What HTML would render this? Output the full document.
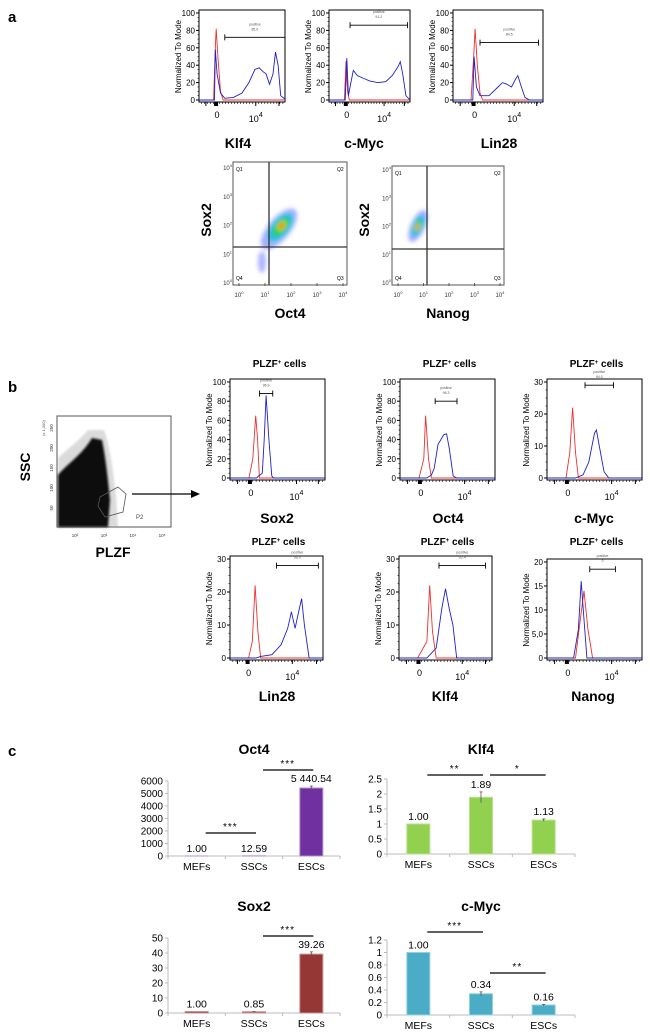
<!DOCTYPE html>
<html><head><meta charset="utf-8">
<style>
html,body{margin:0;padding:0;background:#fff;}
svg{display:block;font-family:"Liberation Sans",sans-serif;}
</style></head>
<body>
<svg id="fig" width="650" height="1036" viewBox="0 0 650 1036" xmlns="http://www.w3.org/2000/svg">
<defs>
<filter id="blur2" x="-50%" y="-50%" width="200%" height="200%"><feGaussianBlur stdDeviation="2"/></filter>
<filter id="blur1" x="-50%" y="-50%" width="200%" height="200%"><feGaussianBlur stdDeviation="1"/></filter>
</defs>
<text x="8" y="22" font-size="15" font-weight="bold">a</text>
<text x="8" y="392" font-size="15" font-weight="bold">b</text>
<text x="8" y="756" font-size="15" font-weight="bold">c</text>

<g>
  <rect x="233" y="162" width="114" height="123" fill="none" stroke="#555" stroke-width="1"/>
  <g filter="url(#blur2)" transform="rotate(-50 279 229)">
    <ellipse cx="279" cy="229" rx="25" ry="11" fill="#4a5cff" opacity="0.5"/>
    <ellipse cx="281" cy="229" rx="17" ry="8" fill="#22c0e0"/>
    <ellipse cx="282" cy="229" rx="11" ry="5.5" fill="#33d040"/>
    <ellipse cx="283" cy="229" rx="5" ry="3" fill="#ffd000"/>
    <ellipse cx="283" cy="229" rx="2.5" ry="1.8" fill="#e03000"/>
  </g>
  <ellipse cx="262" cy="262" rx="4" ry="11" fill="#4a5cff" opacity="0.45" filter="url(#blur2)"/>
  <line x1="269" y1="162" x2="269" y2="285" stroke="#333" stroke-width="1.3"/>
  <line x1="233" y1="247" x2="347" y2="247" stroke="#333" stroke-width="1.3"/>
  <text x="236" y="171" font-size="5">Q1</text><text x="337" y="171" font-size="5">Q2</text>
  <text x="236" y="280" font-size="5">Q4</text><text x="337" y="280" font-size="5">Q3</text>
</g>
<g>
  <rect x="392" y="166" width="112" height="119" fill="none" stroke="#555" stroke-width="1"/>
  <g filter="url(#blur2)" transform="rotate(25 418 226)">
    <ellipse cx="418" cy="226" rx="7" ry="17" fill="#4a5cff" opacity="0.55"/>
    <ellipse cx="418" cy="226" rx="5" ry="11" fill="#22c0e0"/>
    <ellipse cx="418" cy="226" rx="3" ry="7" fill="#33d040"/>
    <ellipse cx="418" cy="227" rx="2" ry="3.5" fill="#ffa000"/>
  </g>
  <line x1="427" y1="166" x2="427" y2="285" stroke="#333" stroke-width="1.3"/>
  <line x1="392" y1="249" x2="504" y2="249" stroke="#333" stroke-width="1.3"/>
  <text x="395" y="175" font-size="5">Q1</text><text x="494" y="175" font-size="5">Q2</text>
  <text x="395" y="280" font-size="5">Q4</text><text x="494" y="280" font-size="5">Q3</text>
</g>
<text transform="translate(211 220) rotate(-90)" text-anchor="middle" font-size="14" font-weight="bold">Sox2</text>
<text transform="translate(369 220) rotate(-90)" text-anchor="middle" font-size="14" font-weight="bold">Sox2</text>
<text x="290" y="318" text-anchor="middle" font-size="14" font-weight="bold">Oct4</text>
<text x="448" y="318" text-anchor="middle" font-size="14" font-weight="bold">Nanog</text>

<g>
  <rect x="57" y="416" width="114" height="111" fill="none" stroke="#555" stroke-width="1"/>
  <path d="M58,527 L58,458 C66,450 78,442 88,430 L104,430 C110,447 113,470 116,495 L118,527 Z" fill="#999" opacity="0.35" filter="url(#blur1)"/>
  <path d="M58,527 L58,475 C66,465 82,455 92,438 L102,440 C106,460 108,480 110,500 L108,527 Z" fill="#111" filter="url(#blur1)"/>
  <path d="M100,497 L118,487 L126,494 L123,512 L105,517 L98,506 Z" fill="none" stroke="#555" stroke-width="0.8"/>
  <text x="136" y="519" font-size="6" fill="#444">P2</text>
  <text transform="translate(45 436) rotate(-90)" font-size="4" fill="#555">(x 1,000)</text>
</g>
<text transform="translate(30 467) rotate(-90)" text-anchor="middle" font-size="14" font-weight="bold">SSC</text>
<text x="113" y="557" text-anchor="middle" font-size="14" font-weight="bold">PLZF</text>
<g>
  <line x1="132" y1="494" x2="193" y2="494" stroke="#000" stroke-width="1.2"/>
  <polygon points="200,494 191,490 191,498" fill="#000"/>
</g>
<g id="dyn"></g>
</svg>
<script>
const klf4aRed=[[0.17,0],[0.19,60],[0.2,82],[0.22,50],[0.25,10],[0.28,0],[1,0]];
const klf4aBlue=[[0,0],[0.18,0],[0.19,58],[0.21,30],[0.25,8],[0.3,2],[0.4,3],[0.5,8],[0.58,20],[0.65,35],[0.7,37],[0.74,33],[0.78,30],[0.82,18],[0.86,30],[0.89,55],[0.92,40],[0.95,5],[1,1]];
const cmycaRed=[[0,0],[0.19,0],[0.21,45],[0.23,10],[0.25,0],[1,0]];
const cmycaBlue=[[0,0],[0.2,0],[0.22,48],[0.24,5],[0.27,20],[0.3,34],[0.35,28],[0.45,24],[0.5,22],[0.6,20],[0.7,21],[0.78,28],[0.85,38],[0.88,44],[0.91,30],[0.95,5],[1,0]];
const lin28aRed=[[0,0],[0.2,0],[0.23,50],[0.245,82],[0.27,40],[0.3,8],[0.33,0],[1,0]];
const lin28aBlue=[[0,0],[0.22,0],[0.235,50],[0.26,15],[0.3,5],[0.4,5],[0.5,15],[0.55,20],[0.6,18],[0.65,15],[0.7,25],[0.72,28],[0.76,15],[0.8,3],[0.85,0],[1,0]];
const sox2bRed=[[0,0],[0.2,0],[0.24,20],[0.27,65],[0.29,40],[0.31,0],[1,0]];
const sox2bBlue=[[0,0],[0.28,0],[0.3,2],[0.34,5],[0.36,40],[0.38,86],[0.41,40],[0.44,2],[0.46,0],[1,0]];
const oct4bRed=[[0,0],[0.2,0],[0.25,20],[0.27,65],[0.3,20],[0.33,0],[1,0]];
const oct4bBlue=[[0,0],[0.28,0],[0.33,3],[0.36,10],[0.4,35],[0.43,40],[0.46,45],[0.49,46],[0.52,30],[0.56,2],[0.6,0],[1,0]];
const cmycbRed=[[0,0],[0.2,0],[0.24,8],[0.27,22],[0.3,8],[0.33,0],[1,0]];
const cmycbBlue=[[0,0],[0.3,0],[0.38,1],[0.44,5],[0.5,14],[0.52,15],[0.55,10],[0.6,2],[0.65,0],[1,0]];
const lin28bRed=[[0,0],[0.2,0],[0.24,5],[0.27,22],[0.3,8],[0.33,0],[1,0]];
const lin28bBlue=[[0,0],[0.28,0],[0.33,0.5],[0.45,1],[0.55,4],[0.62,9],[0.66,14],[0.7,9],[0.73,13],[0.77,18],[0.8,10],[0.85,0],[1,0]];
const klf4bRed=[[0,0],[0.2,0],[0.3,5],[0.33,22],[0.36,8],[0.4,0],[1,0]];
const klf4bBlue=[[0,0],[0.3,0],[0.4,3],[0.46,15],[0.5,21],[0.54,15],[0.58,10],[0.62,0],[1,0]];
const nanogbRed=[[0,0],[0.3,0],[0.35,8],[0.39,14],[0.43,6],[0.48,0],[1,0]];
const nanogbBlue=[[0,0],[0.28,0],[0.33,6],[0.36,16],[0.39,8],[0.42,0],[1,0]];
const ticks100=[0,20,40,60,80,100];
const ticks30=[0,10,20,30];
const ticks20=[0,5,10,15,20];
const ticks20Labels=["0","5,0","10","15","20"];

const categories=["MEFs","SSCs","ESCs"];
const oct4Vals=[1.00,12.59,5440.54];
const oct4Err=[0,0,150];
const oct4Labels=["1.00","12.59","5 440.54"];
const oct4Ticks=[0,1000,2000,3000,4000,5000,6000];
const klf4Vals=[1.00,1.89,1.13];
const klf4Err=[0,0.18,0.04];
const klf4Labels=["1.00","1.89","1.13"];
const klf4Ticks=[0,0.5,1,1.5,2,2.5];
const sox2Vals=[1.00,0.85,39.26];
const sox2Err=[0,0.1,1.5];
const sox2Labels=["1.00","0.85","39.26"];
const sox2Ticks=[0,10,20,30,40,50];
const cmycVals=[1.00,0.34,0.16];
const cmycErr=[0,0.03,0.01];
const cmycLabels=["1.00","0.34","0.16"];
const cmycTicks=[0,0.2,0.4,0.6,0.8,1,1.2];

const NS="http://www.w3.org/2000/svg";
const root=document.getElementById('dyn');
function mk(tag,attrs,parent,txt){const e=document.createElementNS(NS,tag);for(const k in attrs)e.setAttribute(k,attrs[k]);if(txt!==undefined)e.textContent=txt;(parent||root).appendChild(e);return e;}

function hist(c){
  const g=mk('g',{});
  
  
  const sx=f=>c.l+f*(c.r-c.l);
  const sy=v=>c.y0-(v/c.ymax)*(c.y0-c.yt);
  mk('rect',{x:c.l,y:c.yt-3,width:c.r-c.l,height:c.y0-c.yt+5,fill:'none',stroke:'#000','stroke-width':1},g);
  c.ticks.forEach((t,i)=>{
    mk('line',{x1:c.l-3,y1:sy(t),x2:c.l,y2:sy(t),stroke:'#000','stroke-width':1},g);
    const lb=mk('text',{x:c.l-4,y:sy(t)+3,'text-anchor':'end','font-size':8},g,c.tlabels?c.tlabels[i]:String(t));
    
    
  });
  for(let i=0;i<c.ticks.length-1;i++){for(let k=1;k<4;k++){const v=c.ticks[i]+(c.ticks[i+1]-c.ticks[i])*k/4;mk('line',{x1:c.l-1.5,y1:sy(v),x2:c.l,y2:sy(v),stroke:'#000','stroke-width':0.6},g);}}
  const yb=c.y0+2;
  for(let f=0.03;f<1;f+=0.035){mk('line',{x1:sx(f),y1:yb,x2:sx(f),y2:yb+2,stroke:'#000','stroke-width':0.6},g);}
  [0.08,c.z,c.t,0.93].forEach(f=>mk('line',{x1:sx(f),y1:yb,x2:sx(f),y2:yb+4,stroke:'#000','stroke-width':1},g));
  mk('rect',{x:sx(c.z)-3,y:yb,width:4,height:4,fill:'#000'},g);
  mk('text',{x:sx(c.z),y:yb+16,'text-anchor':'middle','font-size':9},g,'0');
  const tt=mk('text',{x:sx(c.t),y:yb+20,'text-anchor':'middle','font-size':9},g,'10');
  mk('tspan',{dy:-5,'font-size':7},tt,'4');
  const lineOf=arr=>arr.map((p,i)=>(i?'L':'M')+sx(p[0]).toFixed(1)+','+sy(p[1]).toFixed(1)).join(' ');
  const rp=mk('path',{d:lineOf(c.red),fill:'none',stroke:'#f03030','stroke-width':0.9},g);
  
  
  const bp=mk('path',{d:lineOf(c.blue),fill:'none',stroke:'#2020c8','stroke-width':0.9},g);
  
  
  const gy=sy(c.gate[2]);
  mk('line',{x1:sx(c.gate[0]),y1:gy,x2:sx(c.gate[1]),y2:gy,stroke:'#000','stroke-width':0.9},g);
  mk('line',{x1:sx(c.gate[0]),y1:gy-3,x2:sx(c.gate[0]),y2:gy+3,stroke:'#000','stroke-width':0.9},g);
  mk('line',{x1:sx(c.gate[1]),y1:gy-3,x2:sx(c.gate[1]),y2:gy+3,stroke:'#000','stroke-width':0.9},g);
  const gm=(sx(c.gate[0])+sx(c.gate[1]))/2;
  mk('text',{x:gm,y:gy-12,'text-anchor':'middle','font-size':3.5,fill:'#555'},g,'positive');
  mk('text',{x:gm,y:gy-7,'text-anchor':'middle','font-size':3.5,fill:'#555'},g,c.gate[3]);
  const yl=mk('text',{transform:`translate(${c.l-18} ${(c.yt+c.y0)/2}) rotate(-90)`,'text-anchor':'middle','font-size':8},g,'Normalized To Mode');
  
  
  const xl=mk('text',{x:c.lx,y:c.ly,'text-anchor':'middle','font-size':14,'font-weight':'bold'},g,c.label);
  
  
  if(c.title){const ti=mk('text',{x:(c.l+c.r)/2+2,y:c.ty,'text-anchor':'middle','font-size':10,'font-weight':'bold'},g,'PLZF');mk('tspan',{dy:-3,'font-size':6},ti,'+');mk('tspan',{dy:3},ti,' cells');}
}
hist({name:'hist-klf4-a',l:199,r:285,yt:13,y0:100,ymax:100,ticks:ticks100,red:klf4aRed,blue:klf4aBlue,z:0.21,t:0.66,gate:[0.3,1.0,72,'85.6'],label:'Klf4',lx:238,ly:148});
hist({name:'hist-cmyc-a',l:329,r:410,yt:13,y0:100,ymax:100,ticks:ticks100,red:cmycaRed,blue:cmycaBlue,z:0.22,t:0.68,gate:[0.26,0.97,86,'91.2'],label:'c-Myc',lx:364,ly:148});
hist({name:'hist-lin28-a',l:453,r:543,yt:13,y0:100,ymax:100,ticks:ticks100,red:lin28aRed,blue:lin28aBlue,z:0.24,t:0.68,gate:[0.3,0.95,66,'84.5'],label:'Lin28',lx:499,ly:148});
hist({name:'hist-sox2-b',l:230,r:325,yt:382,y0:478,ymax:100,ticks:ticks100,red:sox2bRed,blue:sox2bBlue,z:0.22,t:0.7,gate:[0.31,0.45,88,'96.9'],label:'Sox2',lx:277,ly:523,title:1,ty:367});
hist({name:'hist-oct4-b',l:400,r:495,yt:382,y0:478,ymax:100,ticks:ticks100,red:oct4bRed,blue:oct4bBlue,z:0.22,t:0.68,gate:[0.37,0.6,80,'96.3'],label:'Oct4',lx:448,ly:523,title:1,ty:367});
hist({name:'hist-cmyc-b',l:547,r:642,yt:382,y0:478,ymax:30,ticks:ticks30,red:cmycbRed,blue:cmycbBlue,z:0.22,t:0.68,gate:[0.4,0.7,29,'94.0'],label:'c-Myc',lx:594,ly:523,title:1,ty:367});
hist({name:'hist-lin28-b',l:230,r:323,yt:559,y0:658,ymax:30,ticks:ticks30,red:lin28bRed,blue:lin28bBlue,z:0.2,t:0.67,gate:[0.5,0.95,28,'98.0'],label:'Lin28',lx:277,ly:701,title:1,ty:545});
hist({name:'hist-klf4-b',l:399,r:492,yt:559,y0:658,ymax:30,ticks:ticks30,red:klf4bRed,blue:klf4bBlue,z:0.22,t:0.68,gate:[0.43,0.93,28,'92.4'],label:'Klf4',lx:445,ly:701,title:1,ty:545});
hist({name:'hist-nanog-b',l:547,r:642,yt:562,y0:658,ymax:20,ticks:ticks20,tlabels:ticks20Labels,red:nanogbRed,blue:nanogbBlue,z:0.22,t:0.68,gate:[0.45,0.72,18.5,'0'],label:'Nanog',lx:593,ly:701,title:1,ty:545});

function decades(x0,x1,yBase,yx,y0,y1){
  for(let i=0;i<=4;i++){
    const x=x0+(x1-x0)*i/4;
    const t=mk('text',{x:x,y:yBase,'text-anchor':'middle','font-size':6,fill:'#333'},root,'10');mk('tspan',{dy:-3,'font-size':4},t,String(i));
    mk('line',{x1:x,y1:y1,x2:x,y2:y1+3,stroke:'#333','stroke-width':0.7});
    const y=y1-(y1-y0)*i/4;
    const t2=mk('text',{x:yx,y:y+2,'text-anchor':'end','font-size':6,fill:'#333'},root,'10');mk('tspan',{dy:-3,'font-size':4},t2,String(i));
  }
}
decades(239,343,297,232,168,283);
decades(398,500,297,391,170,283);
['10²','10³','10⁴','10⁵'].forEach((s,i)=>{mk('text',{x:75+i*29,y:537,'text-anchor':'middle','font-size':4.5,fill:'#333'},root,s);});
['50','100','150','200','250'].forEach((s,i)=>{mk('text',{transform:`translate(${53} ${508-i*20}) rotate(-90)`,'text-anchor':'middle','font-size':4.5,fill:'#333'},root,s);});

function bars(c){
  const g=mk('g',{});
  
  
  const ymax=c.ticks[c.ticks.length-1];
  const sy=v=>c.y0-(v/ymax)*(c.y0-c.yt);
  const bw=(c.r-c.l)/categories.length;
  const cx=i=>c.l+bw*(i+0.5);
  mk('line',{x1:c.l,y1:c.yt,x2:c.l,y2:c.y0,stroke:'#bbb','stroke-width':1},g);
  mk('line',{x1:c.l,y1:c.y0,x2:c.r,y2:c.y0,stroke:'#bbb','stroke-width':1},g);
  c.ticks.forEach(t=>{
    mk('line',{x1:c.l-3,y1:sy(t),x2:c.l,y2:sy(t),stroke:'#bbb','stroke-width':1},g);
    const tl=mk('text',{x:c.l-5,y:sy(t)+3.5,'text-anchor':'end','font-size':10},g,String(t));
    
    
  });
  for(let i=0;i<=categories.length;i++)mk('line',{x1:c.l+bw*i,y1:c.y0,x2:c.l+bw*i,y2:c.y0+3,stroke:'#bbb','stroke-width':1},g);
  categories.forEach((cat,i)=>{
    const v=c.vals[i];
    const b=mk('rect',{x:cx(i)-11.5,y:sy(v),width:23,height:c.y0-sy(v),fill:c.color,stroke:c.stroke,'stroke-width':1},g);
    
    
    let top=sy(v);
    if(c.err[i]>0){const e1=sy(v+c.err[i]),e2=sy(v-c.err[i]);mk('line',{x1:cx(i),y1:e1,x2:cx(i),y2:e2,stroke:'#555','stroke-width':0.8},g);mk('line',{x1:cx(i)-1.5,y1:e1,x2:cx(i)+1.5,y2:e1,stroke:'#555','stroke-width':0.8},g);top=e1;}
    const vl=mk('text',{x:cx(i),y:top-4,'text-anchor':'middle','font-size':10.5},g,c.labels[i]);
    
    
    const cl=mk('text',{x:cx(i),y:c.y0+14,'text-anchor':'middle','font-size':10.5},g,cat);
    
    
  });
  c.sig.forEach(s=>{
    const y=s[2];
    mk('line',{x1:cx(s[0])+9,y1:y,x2:cx(s[1])+2,y2:y,stroke:'#000','stroke-width':1.2},g);
    const st=mk('text',{x:(cx(s[0])+cx(s[1]))/2+5,y:y-3,'text-anchor':'middle','font-size':10,'letter-spacing':'1'},g,s[3]);
    
    
  });
  const ti=mk('text',{x:(c.l+c.r)/2,y:c.ty,'text-anchor':'middle','font-size':14,'font-weight':'bold'},g,c.title);
  
  
}
bars({name:'bar-chart-oct4',title:'Oct4',ty:754,l:168,r:340,yt:781,y0:856,ticks:oct4Ticks,vals:oct4Vals,err:oct4Err,labels:oct4Labels,color:'#7030a0',stroke:'#b090d0',sig:[[0,1,833,'***'],[1,2,770,'***']]});
bars({name:'bar-chart-klf4',title:'Klf4',ty:754,l:387,r:575,yt:779,y0:854,ticks:klf4Ticks,vals:klf4Vals,err:klf4Err,labels:klf4Labels,color:'#92d050',stroke:'#b8e090',sig:[[0,1,775,'**'],[1,2,775,'*']]});
bars({name:'bar-chart-sox2',title:'Sox2',ty:911,l:168,r:340,yt:938,y0:1013,ticks:sox2Ticks,vals:sox2Vals,err:sox2Err,labels:sox2Labels,color:'#953735',stroke:'#c89090',sig:[[1,2,936,'***']]});
bars({name:'bar-chart-cmyc',title:'c-Myc',ty:911,l:387,r:575,yt:940,y0:1015,ticks:cmycTicks,vals:cmycVals,err:cmycErr,labels:cmycLabels,color:'#4bacc6',stroke:'#90d0e0',sig:[[0,1,932,'***'],[1,2,973,'**']]});
</script>
</body></html>
